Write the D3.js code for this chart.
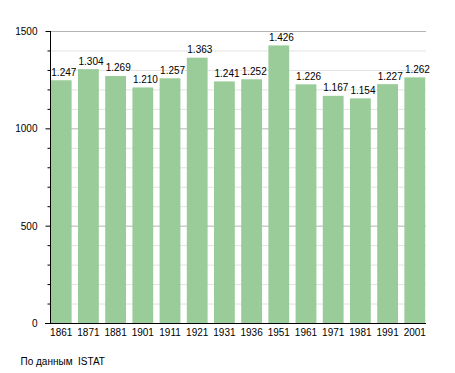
<!DOCTYPE html>
<html>
<head>
<meta charset="utf-8">
<script src="https://cdn.jsdelivr.net/npm/d3@7"></script>
<style>
body { margin: 0; background: #fff; }
text { font-family: "Liberation Sans", Arial, sans-serif; font-size: 10px; fill: #000; }
</style>
</head>
<body>
<svg id="svg" width="455" height="373"></svg>
<script>
let years = ["1861","1871","1881","1901","1911","1921","1931","1936","1951","1961","1971","1981","1991","2001"];
let population = [1247, 1304, 1269, 1210, 1257, 1363, 1241, 1252, 1426, 1226, 1167, 1154, 1227, 1262];
let majorTicks = [0, 500, 1000, 1500];
let minorTicks = d3.range(100, 1500, 100).filter(v => v % 500 !== 0);
let source = "По данным  ISTAT";

let plot = { left: 50, right: 426, top: 31, bottom: 323 };

let svg = d3.select("#svg");
let itFormat = d3.formatLocale({decimal: ",", thousands: ".", grouping: [3], currency: ["", ""]}).format(",d");

let xScale = d3.scaleBand().domain(years).range([plot.left, plot.right]).paddingInner(0.235).paddingOuter(0.03);
let yScale = d3.scaleLinear().domain([0, 1500]).range([plot.bottom, plot.top]);

// griglia
svg.append("g").selectAll("line")
    .data(minorTicks)
    .join("line")
    .attr("x1", plot.left).attr("x2", plot.right)
    .attr("y1", d => yScale(d) + 0.5).attr("y2", d => yScale(d) + 0.5)
    .attr("stroke", "#e2e2e2");
svg.append("g").selectAll("line")
    .data(majorTicks.slice(1))
    .join("line")
    .attr("x1", plot.left).attr("x2", plot.right)
    .attr("y1", d => yScale(d) + 0.5).attr("y2", d => yScale(d) + 0.5)
    .attr("stroke", "#b4b4b4");

// barre
svg.append("g").selectAll("rect")
    .data(population)
    .join("rect")
    .attr("x", (d, i) => xScale(years[i]))
    .attr("width", xScale.bandwidth())
    .attr("y", d => yScale(d))
    .attr("height", d => plot.bottom - yScale(d))
    .attr("fill", "#99cc99");

// etichette valori
svg.append("g").selectAll("text")
    .data(population)
    .join("text")
    .attr("x", (d, i) => xScale(years[i]) + 0.5)
    .attr("y", d => yScale(d) - 4.5)
    .text(d => itFormat(d));

// asse y
let yAxis = svg.append("g").attr("transform", `translate(${plot.left + 0.5},0)`);
yAxis.call(d3.axisLeft(yScale).tickValues(majorTicks).tickFormat(d3.format("d")).tickSize(5).tickPadding(8))
    .call(g => g.select(".domain").remove())
    .call(g => g.selectAll(".tick line").attr("stroke", "#000"))
    .call(g => g.selectAll(".tick text").attr("font-family", null).attr("font-size", null).attr("dy", "0.35em"));
yAxis.append("g").selectAll("line")
    .data(minorTicks)
    .join("line")
    .attr("x1", -3).attr("x2", 0)
    .attr("y1", d => yScale(d) + 0.5).attr("y2", d => yScale(d) + 0.5)
    .attr("stroke", "#000");
yAxis.append("line")
    .attr("x1", 0).attr("x2", 0)
    .attr("y1", plot.top).attr("y2", plot.bottom + 0.5)
    .attr("stroke", "#000");

// asse x
let xAxis = svg.append("g").attr("transform", `translate(0,${plot.bottom + 0.5})`);
xAxis.call(d3.axisBottom(xScale).tickSize(0).tickPadding(5))
    .call(g => g.select(".domain").remove())
    .call(g => g.selectAll(".tick text").attr("font-family", null).attr("font-size", null));
xAxis.append("line")
    .attr("x1", plot.left - 5).attr("x2", plot.right)
    .attr("stroke", "#000");

// fonte
svg.append("text")
    .attr("x", 20.5).attr("y", 365)
    .style("white-space", "pre")
    .text(source);
</script>
</body>
</html>
